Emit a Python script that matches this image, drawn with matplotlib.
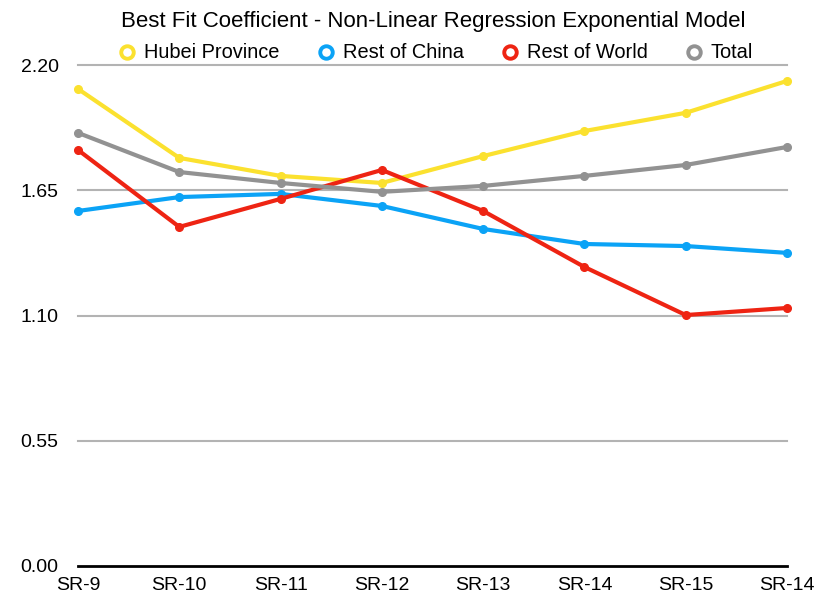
import matplotlib.pyplot as plt
from matplotlib.lines import Line2D

plt.rcParams['font.family'] = ['Liberation Sans', 'DejaVu Sans']

# data
labels = ["SR-9", "SR-10", "SR-11", "SR-12", "SR-13", "SR-14", "SR-15", "SR-14"]
hubei = [2.095, 1.792, 1.713, 1.682, 1.800, 1.910, 1.990, 2.130]
rest_china = [1.559, 1.620, 1.634, 1.581, 1.480, 1.414, 1.405, 1.375]
rest_world = [1.827, 1.489, 1.612, 1.739, 1.559, 1.313, 1.102, 1.133]
total = [1.902, 1.730, 1.682, 1.643, 1.669, 1.713, 1.761, 1.840]
yticks = [0.00, 0.55, 1.10, 1.65, 2.20]

series = [
    ("Hubei Province", hubei, "#FBE12F"),
    ("Rest of China", rest_china, "#0BA3F6"),
    ("Rest of World", rest_world, "#EE2413"),
    ("Total", total, "#929292"),
]

fig = plt.figure(figsize=(8.32, 6), dpi=100)
ax = fig.add_axes([78 / 832, 1 - 566 / 600, (787 - 78) / 832, (566 - 65) / 600])

x = list(range(len(labels)))
for name, vals, col in series:
    ax.plot(x, vals, color=col, linewidth=3, marker='o', markersize=5.5,
            solid_joinstyle='round', clip_on=False, zorder=3)

ax.set_xlim(0, len(labels) - 1)
ax.set_ylim(0, 2.2)
ax.set_yticks(yticks)
ax.set_yticklabels([f"{v:.2f}" for v in yticks])
ax.set_xticks(x)
ax.set_xticklabels(labels)
for v in yticks[1:]:
    ax.axhline(v, color="#b3b3b3", linewidth=1.5, zorder=1, clip_on=False)
ax.axhline(0, color="black", linewidth=2, zorder=2, clip_on=False)

for s in ax.spines.values():
    s.set_visible(False)
ax.tick_params(axis='both', length=0, labelsize=14)
ax.tick_params(axis='y', pad=14)
ax.tick_params(axis='x', pad=8)

fig.text(433.5 / 832, 1 - 21 / 600, "Best Fit Coefficient - Non-Linear Regression Exponential Model",
         ha='center', va='center', fontsize=16)

handles = [Line2D([], [], linestyle='none', marker='o', markersize=9,
                  markerfacecolor='white', markeredgecolor=col, markeredgewidth=2.8)
           for _, _, col in series]
fig.legend(handles, [s[0] for s in series], loc='center', ncol=4,
           bbox_to_anchor=(0.523, 1 - 53 / 600), frameon=False, fontsize=14.4,
           handletextpad=0.35, columnspacing=1.8, handlelength=1.0)

fig.savefig("out.png", dpi=100)
